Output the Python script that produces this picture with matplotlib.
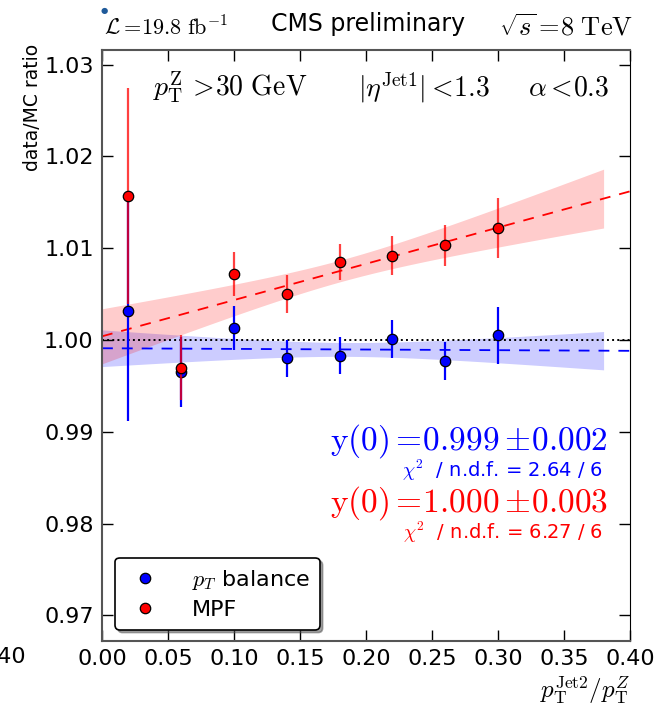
import numpy as np
import matplotlib
matplotlib.use('Agg')
import matplotlib.pyplot as plt
from matplotlib.lines import Line2D

plt.rcParams['mathtext.fontset'] = 'cm'
plt.rcParams['font.family'] = ['DejaVu Sans']

# ---- data ----
x_bins = [0.02, 0.06, 0.10, 0.14, 0.18, 0.22, 0.26, 0.30]
balance_ratio = [1.0032, 0.9965, 1.0013, 0.9980, 0.9983, 1.0001, 0.9977, 1.0005]
balance_err = [0.0120, 0.0038, 0.0024, 0.0020, 0.0020, 0.0021, 0.0021, 0.0031]
mpf_ratio = [1.0157, 0.9970, 1.0072, 1.0050, 1.0085, 1.0092, 1.0103, 1.0122]
mpf_err = [0.0118, 0.0035, 0.0024, 0.0021, 0.0020, 0.0021, 0.0022, 0.0033]

# linear fit results: intercept, slope, their uncertainties, correlation
balance_fit = dict(a=0.9991, b=-0.0007, sa=0.0020, sb=0.0100, rho=-0.926)
mpf_fit = dict(a=1.0004, b=0.0395, sa=0.0030, sb=0.0151, rho=-0.919)
balance_text = (r'$\mathrm{y(0)}=\!0.999\pm\!0.002$', r'$\chi^2$  / n.d.f. = 2.64 / 6')
mpf_text = (r'$\mathrm{y(0)}=\!1.000\pm\!0.003$', r'$\chi^2$  / n.d.f. = 6.27 / 6')

xticks = [0.00, 0.05, 0.10, 0.15, 0.20, 0.25, 0.30, 0.35, 0.40]
yticks = [0.97, 0.98, 0.99, 1.00, 1.01, 1.02, 1.03]

fig = plt.figure(figsize=(6.68, 7.09), dpi=100)
ax = fig.add_axes([102/668, 1-641/709, 528/668, 591/709])

def band(fit, xmax_band=0.38, xmax_line=0.40):
    xb = np.linspace(0, xmax_band, 200)
    xl = np.linspace(0, xmax_line, 2)
    yc = fit['a'] + fit['b']*xb
    var = fit['sa']**2 + 2*fit['rho']*fit['sa']*fit['sb']*xb + (fit['sb']*xb)**2
    s = np.sqrt(var)
    return xb, yc - s, yc + s, xl, fit['a'] + fit['b']*xl

for fit, col in [(balance_fit, 'blue'), (mpf_fit, 'red')]:
    xb, lo, hi, xl, yl = band(fit)
    ax.fill_between(xb, lo, hi, color=col, alpha=0.2, lw=0, zorder=1)
    ax.plot(xl, yl, ls=(0, (6, 5)), color=col, lw=1.3, zorder=2)

ax.axhline(1.0, color='black', ls=':', lw=1.4, zorder=2)

ax.errorbar(x_bins, balance_ratio, yerr=balance_err, fmt='o', color='blue',
            ecolor='blue', elinewidth=1.6, capsize=0, ms=7.5, mec='black', mew=0.9,
            zorder=3)
ax.errorbar(x_bins, mpf_ratio, yerr=mpf_err, fmt='o', color='red',
            ecolor=(1, 0, 0, 0.75), elinewidth=1.6, capsize=0, ms=7.5, mec='black', mew=0.9,
            zorder=4)

ax.set_xlim(0, 0.40)
ax.set_ylim(0.9672, 1.0316)
ax.set_xticks(xticks)
ax.set_xticklabels(['%.2f' % v for v in xticks])
ax.set_yticks(yticks)
ax.set_yticklabels(['%.2f' % v for v in yticks])
ax.tick_params(direction='in', length=8, width=1, labelsize=16, top=True, right=True, pad=6)
for side in ['left', 'bottom', 'top']:
    ax.spines[side].set_color('#555555')
    ax.spines[side].set_linewidth(1.5)
ax.spines['right'].set_color('black')

ax.set_ylabel('data/MC ratio', fontsize=13.5, ha='right')
ax.yaxis.set_label_coords(-0.113, 1.01)
ax.set_xlabel(r'$p_\mathrm{T}^\mathrm{Jet2}/p_\mathrm{T}^Z$', fontsize=18, loc='right', labelpad=4)

# legend
handles = [Line2D([], [], ls='none', marker='o', mfc='blue', mec='black', mew=0.9, ms=7.5),
           Line2D([], [], ls='none', marker='o', mfc='red', mec='black', mew=0.9, ms=7.5)]
leg = ax.legend(handles, [r'$p_T$ balance', 'MPF'], loc='lower left',
                bbox_to_anchor=(0.025, 0.019), borderaxespad=0, fontsize=16,
                frameon=True, fancybox=True, shadow=True, numpoints=1,
                handletextpad=1.2, borderpad=0.45, labelspacing=0.35, handlelength=1.8)
leg.get_frame().set_edgecolor('black')
leg.get_frame().set_linewidth(1.2)

# fit texts
ax.text(0.958, 0.339, balance_text[0], transform=ax.transAxes, ha='right', va='center',
        fontsize=24, color='blue')
ax.text(0.949, 0.289, balance_text[1], transform=ax.transAxes, ha='right', va='center',
        fontsize=14, color='blue')
ax.text(0.958, 0.234, mpf_text[0], transform=ax.transAxes, ha='right', va='center',
        fontsize=24, color='red')
ax.text(0.949, 0.184, mpf_text[1], transform=ax.transAxes, ha='right', va='center',
        fontsize=14, color='red')

# cut texts
ax.text(0.097, 0.937, r'$p_\mathrm{T}^\mathrm{Z}\,>\!30\ \mathrm{GeV}$', transform=ax.transAxes,
        ha='left', va='center', fontsize=20)
ax.text(0.485, 0.937, r'$|\eta^\mathrm{Jet1}|<\!1.3$', transform=ax.transAxes,
        ha='left', va='center', fontsize=20)
ax.text(0.960, 0.937, r'$\alpha<\!0.3$', transform=ax.transAxes,
        ha='right', va='center', fontsize=20)

# header
fig.text(104/668, 1-36/709, r'$\mathcal{L}=\!19.8\ \mathrm{fb}^{-1}$', ha='left', va='baseline', fontsize=16)
fig.text(368/668, 1-31/709, 'CMS preliminary', ha='center', va='baseline', fontsize=17)
fig.text(633/668, 1-36/709, r'$\sqrt{s}=\!8\ \mathrm{TeV}$', ha='right', va='baseline', fontsize=19)
fig.text(104/668, 1-11/709, '\u25cf', ha='center', va='center', fontsize=6, color='#1f5a9a')
fig.text(26/668, 1-657/709, '0.40', ha='right', va='center', fontsize=16)

fig.savefig('out.png', dpi=100)
